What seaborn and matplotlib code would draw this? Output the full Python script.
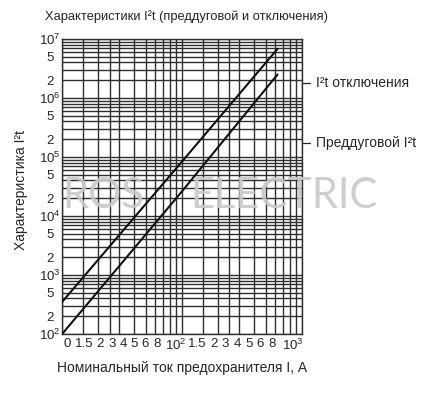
import matplotlib
matplotlib.use("Agg")
import matplotlib.pyplot as plt
import matplotlib.transforms as mtransforms
import seaborn as sns
import pandas as pd
from matplotlib.ticker import FixedLocator, NullFormatter

# values
current = [10, 100, 630]
breaking_i2t = [350, 83000, 6800000]     # I2t отключения
prearc_i2t = [100, 26000, 2500000]       # Преддуговой I2t

x_ticks = [10, 15, 20, 30, 40, 50, 60, 80, 100, 150, 200, 300, 400, 500, 600, 800, 1000]
x_labels = ["0", "1.5", "2", "3", "4", "5", "6", "8", r"$\mathregular{10^2}$",
            "1.5", "2", "3", "4", "5", "6", "8", r"$\mathregular{10^3}$"]
y_decades = [2, 3, 4, 5, 6, 7]

# the reference prints the x labels evenly spaced, not under their lines:
# horizontal shift of each label, in pixels
x_label_shift = [5, 1, 2, -7, -11, -12, -10, -13, -6,
                 -6, -4, -14, -17, -16, -15, -18, -9]

sns.set_style("white")
plt.rcParams["font.family"] = ["Liberation Sans", "DejaVu Sans"]
plt.rcParams["mathtext.fontset"] = "custom"
plt.rcParams["mathtext.rm"] = "Liberation Sans"
plt.rcParams["mathtext.it"] = "Liberation Sans:italic"

df = pd.DataFrame({
    "I": current * 2,
    "I2t": breaking_i2t + prearc_i2t,
    "series": ["break"] * len(current) + ["prearc"] * len(current),
})

fig = plt.figure(figsize=(4.32, 3.98), dpi=100)
ax = fig.add_axes([0.144, 0.161, 0.554, 0.741])
ax.set_xscale("log")
ax.set_yscale("log")

sns.lineplot(data=df, x="I", y="I2t", hue="series", palette=["#111111", "#111111"],
             linewidth=1.5, legend=False, ax=ax, zorder=5)

ax.set_xlim(10, 1000)
ax.set_ylim(1e2, 1e7)

# grid: ticks and minor lines
ax.xaxis.set_major_locator(FixedLocator(x_ticks))
ax.set_xticklabels(x_labels)
x_minor = [m * d for d in (10, 100) for m in (1.5, 2, 2.5, 3, 4, 5, 6, 7, 8, 9)]
ax.xaxis.set_minor_locator(FixedLocator(x_minor))
ax.xaxis.set_minor_formatter(NullFormatter())

y_ticks, y_labels = [], []
for k in y_decades:
    y_ticks.append(10 ** k)
    y_labels.append(r"$\mathregular{10^%d}$" % k)
    if k < 7:
        y_ticks += [2 * 10 ** k, 5 * 10 ** k]
        y_labels += ["2", "5"]
ax.yaxis.set_major_locator(FixedLocator(y_ticks))
ax.set_yticklabels(y_labels)
y_minor = [m * 10 ** k for k in y_decades[:-1] for m in range(2, 10)]
ax.yaxis.set_minor_locator(FixedLocator(y_minor))
ax.yaxis.set_minor_formatter(NullFormatter())

ax.grid(True, which="both", color="#2e2e2e", linewidth=1.0)
ax.tick_params(which="both", length=0)
ax.tick_params(axis="x", labelsize=9.5, pad=3)
ax.tick_params(axis="y", labelsize=9.5, pad=9)
for lab in ax.get_yticklabels():
    lab.set_horizontalalignment("center")
for lab, dx in zip(ax.get_xticklabels(), x_label_shift):
    lab.set_transform(lab.get_transform()
                      + mtransforms.ScaledTranslation(dx / 100, 0, fig.dpi_scale_trans))
for sp in ax.spines.values():
    sp.set_color("#2e2e2e")
    sp.set_linewidth(1.0)
ax.set_xlabel("")
ax.set_ylabel("")

# side labels with leader lines
for yfrac, txt in [(0.851, "I²t отключения"), (0.646, "Преддуговой I²t")]:
    ax.plot([1.0, 1.035], [yfrac, yfrac], color="#222222", lw=0.9,
            transform=ax.transAxes, clip_on=False)
    ax.text(1.06, yfrac, txt, transform=ax.transAxes, ha="left", va="center",
            fontsize=10)

fig.text(45 / 432, 1 - 17 / 398, "Характеристики I²t (преддуговой и отключения)",
         fontsize=9.3, ha="left", va="center")
fig.text(182 / 432, 1 - 368 / 398, "Номинальный ток предохранителя I, А",
         fontsize=10, ha="center", va="center")
fig.text(21 / 432, 1 - 190 / 398, "Характеристика I²t", rotation=90,
         fontsize=10, ha="center", va="center")

# watermark
wm = dict(fontsize=30, color="#c9c9c9", alpha=0.9, ha="left", va="center",
          zorder=10, family=["Lato", "Liberation Sans"])
fig.text(62 / 432, 1 - 196 / 398, "ROS", **wm)
fig.text(190 / 432, 1 - 196 / 398, "ELECTRIC", **wm)

fig.savefig("out.png", dpi=100)
